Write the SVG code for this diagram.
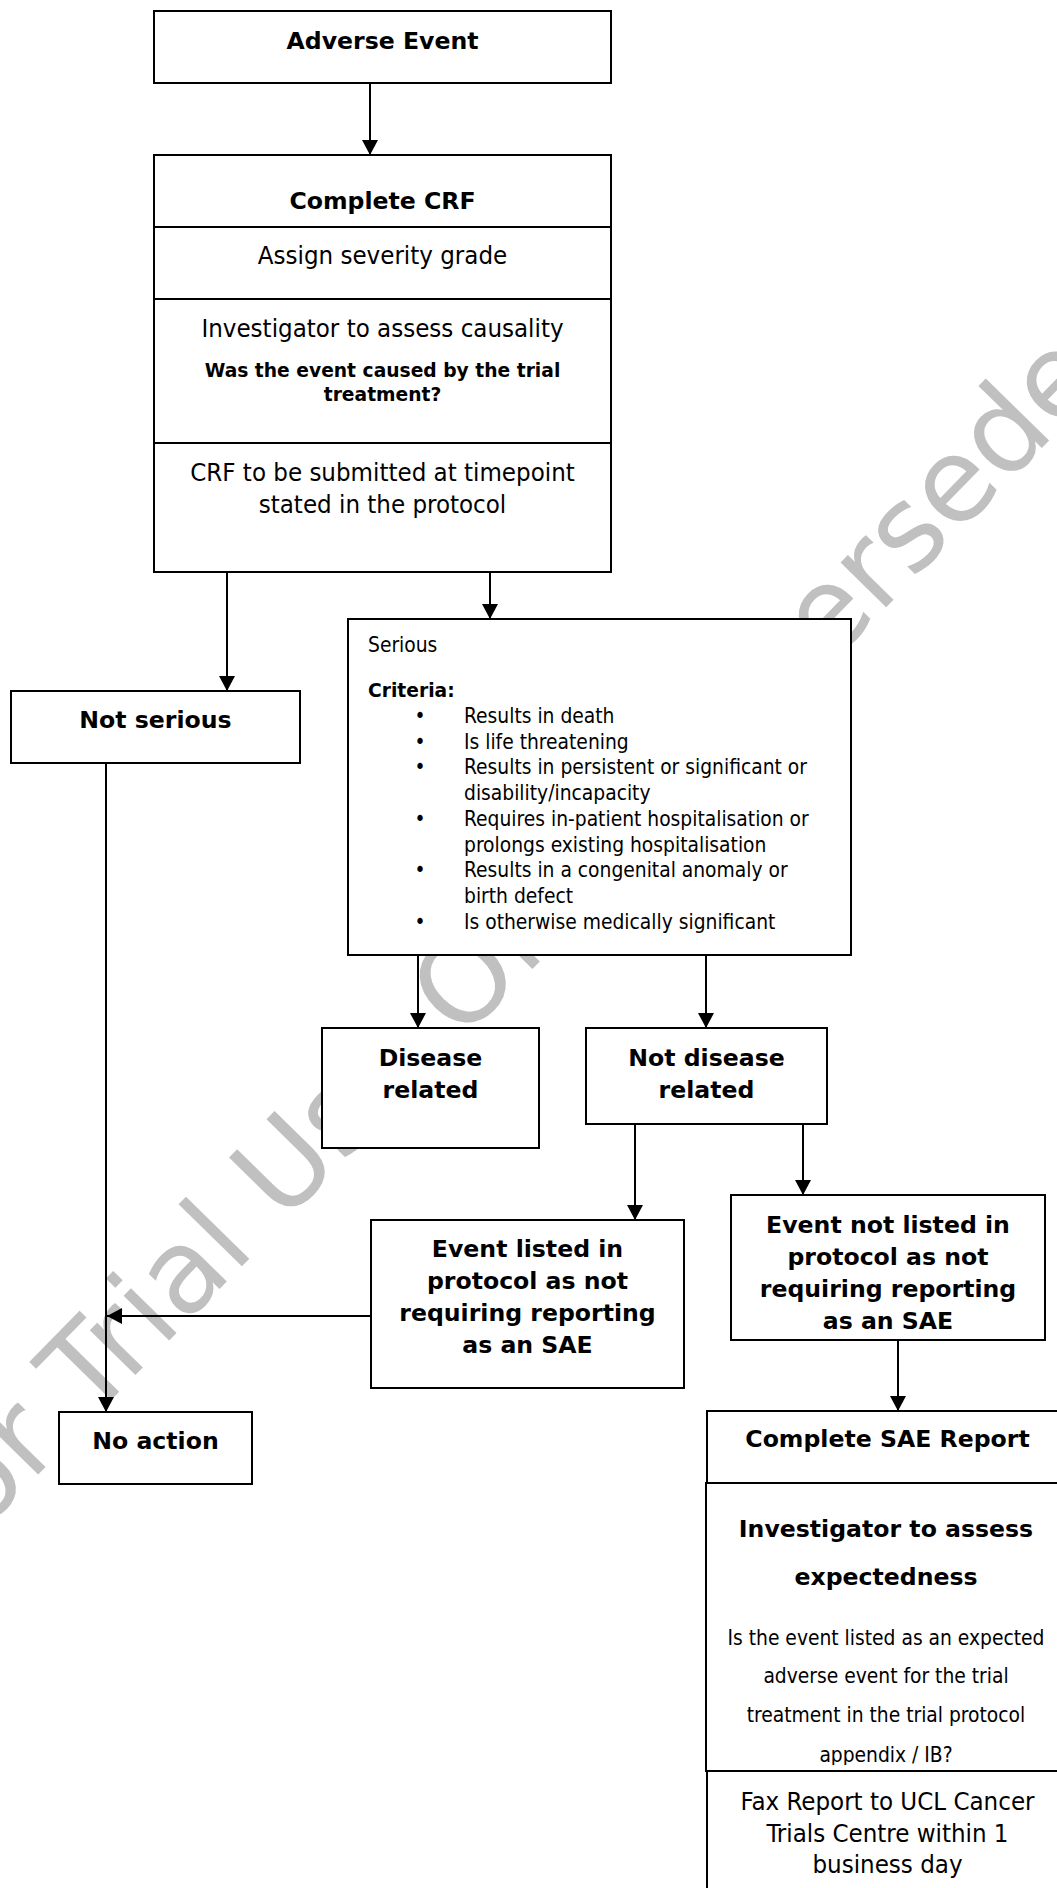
<svg xmlns="http://www.w3.org/2000/svg" width="1057" height="1888" viewBox="0 0 1057 1888">
<defs>
<style>
text{font-family:"DejaVu Sans",Verdana,sans-serif;fill:#000}
.box{fill:#fff;stroke:#000;stroke-width:2}
.dv{stroke:#000;stroke-width:2;fill:none}
.c{text-anchor:middle}
.bl{font-weight:bold;font-size:23.6px}
.rl{font-family:"DejaVu Sans Condensed","Liberation Sans",sans-serif;font-size:25.6px}
.bs{font-weight:bold;font-size:18.7px}
.rs{font-family:"DejaVu Sans Condensed","Liberation Sans",sans-serif;font-size:20.8px}
#connectors line{stroke:#000;stroke-width:2;fill:none;marker-end:url(#ah)}
.wm{font-family:"DejaVu Sans",sans-serif;font-size:116.6px;fill:#c0c0c0}
</style>
<marker id="ah" markerUnits="userSpaceOnUse" markerWidth="16" markerHeight="16" viewBox="0 0 16 16" refX="15" refY="8" orient="auto"><path d="M0,0 L15,8 L0,16 Z" fill="#000"/></marker>
<clipPath id="clipExp"><rect x="700" y="1484" width="400" height="281"/></clipPath>
</defs>
<rect width="1057" height="1888" fill="#fff"/>
<g id="watermark"><text class="wm" transform="translate(-63,1578) rotate(-45.65)">For Trial Use Only Superseded</text></g>

<g id="connectors">
<line x1="370" y1="83" x2="370" y2="155"/>
<line x1="227" y1="572" x2="227" y2="691"/>
<line x1="490" y1="572" x2="490" y2="619"/>
<line x1="418" y1="955" x2="418" y2="1028"/>
<line x1="706" y1="955" x2="706" y2="1028"/>
<line x1="635" y1="1124" x2="635" y2="1220"/>
<line x1="803" y1="1124" x2="803" y2="1195"/>
<line x1="898" y1="1340" x2="898" y2="1411"/>
<line x1="106" y1="763" x2="106" y2="1412"/>
<line x1="371" y1="1316" x2="107" y2="1316"/>
</g>

<g id="adverse-event">
<rect class="box" x="154" y="11" width="457" height="72"/>
<text class="c bl" x="382.5" y="49">Adverse Event</text>
</g>

<g id="complete-crf">
<rect class="box" x="154" y="155" width="457" height="417"/>
<line class="dv" x1="154" y1="227" x2="611" y2="227"/>
<line class="dv" x1="154" y1="299" x2="611" y2="299"/>
<line class="dv" x1="154" y1="443" x2="611" y2="443"/>
<text class="c bl" x="382.5" y="209">Complete CRF</text>
<text class="c rl" x="382.5" y="264">Assign severity grade</text>
<text class="c rl" x="382.5" y="337">Investigator to assess causality</text>
<text class="c bs" x="382.5" y="377">Was the event caused by the trial</text>
<text class="c bs" x="382.5" y="401">treatment?</text>
<text class="c rl" x="382.5" y="481">CRF to be submitted at timepoint</text>
<text class="c rl" x="382.5" y="513">stated in the protocol</text>
</g>

<g id="not-serious">
<rect class="box" x="11" y="691" width="289" height="72"/>
<text class="c bl" x="155.5" y="728">Not serious</text>
</g>

<g id="serious">
<rect class="box" x="348" y="619" width="503" height="336"/>
<text class="rs" x="368" y="652">Serious</text>
<text class="bs" x="368" y="697">Criteria:</text>
<text class="c rs" x="420" y="723">•</text>
<text class="rs" x="464" y="723">Results in death</text>
<text class="c rs" x="420" y="749">•</text>
<text class="rs" x="464" y="749">Is life threatening</text>
<text class="c rs" x="420" y="774">•</text>
<text class="rs" x="464" y="774">Results in persistent or significant or</text>
<text class="rs" x="464" y="800">disability/incapacity</text>
<text class="c rs" x="420" y="826">•</text>
<text class="rs" x="464" y="826">Requires in-patient hospitalisation or</text>
<text class="rs" x="464" y="852">prolongs existing hospitalisation</text>
<text class="c rs" x="420" y="877">•</text>
<text class="rs" x="464" y="877">Results in a congenital anomaly or</text>
<text class="rs" x="464" y="903">birth defect</text>
<text class="c rs" x="420" y="929">•</text>
<text class="rs" x="464" y="929">Is otherwise medically significant</text>
</g>

<g id="disease-related">
<rect class="box" x="322" y="1028" width="217" height="120"/>
<text class="c bl" x="430.5" y="1066">Disease</text>
<text class="c bl" x="430.5" y="1098">related</text>
</g>

<g id="not-disease-related">
<rect class="box" x="586" y="1028" width="241" height="96"/>
<text class="c bl" x="706.5" y="1066">Not disease</text>
<text class="c bl" x="706.5" y="1098">related</text>
</g>

<g id="event-listed">
<rect class="box" x="371" y="1220" width="313" height="168"/>
<text class="c bl" x="527.5" y="1257">Event listed in</text>
<text class="c bl" x="527.5" y="1289">protocol as not</text>
<text class="c bl" x="527.5" y="1321">requiring reporting</text>
<text class="c bl" x="527.5" y="1353">as an SAE</text>
</g>

<g id="event-not-listed">
<rect class="box" x="731" y="1195" width="314" height="145"/>
<text class="c bl" x="888" y="1233">Event not listed in</text>
<text class="c bl" x="888" y="1265">protocol as not</text>
<text class="c bl" x="888" y="1297">requiring reporting</text>
<text class="c bl" x="888" y="1329">as an SAE</text>
</g>

<g id="no-action">
<rect class="box" x="59" y="1412" width="193" height="72"/>
<text class="c bl" x="155.5" y="1449">No action</text>
</g>

<g id="complete-sae-report">
<rect class="box" x="707" y="1411" width="361" height="72"/>
<text class="c bl" x="887.5" y="1447">Complete SAE Report</text>
</g>

<g id="assess-expectedness">
<rect class="box" x="706" y="1483" width="362" height="288"/>
<text class="c bl" x="886" y="1537">Investigator to assess</text>
<text class="c bl" x="886" y="1585">expectedness</text>
<text class="c rs" x="886" y="1645">Is the event listed as an expected</text>
<text class="c rs" x="886" y="1683">adverse event for the trial</text>
<text class="c rs" x="886" y="1722">treatment in the trial protocol</text>
<text class="c rs" x="886" y="1762" clip-path="url(#clipExp)">appendix / IB?</text>
</g>

<g id="fax-report">
<rect class="box" x="707" y="1771" width="361" height="140"/>
<text class="c rl" x="887.5" y="1810">Fax Report to UCL Cancer</text>
<text class="c rl" x="887.5" y="1842">Trials Centre within 1</text>
<text class="c rl" x="887.5" y="1873">business day</text>
</g>
</svg>
